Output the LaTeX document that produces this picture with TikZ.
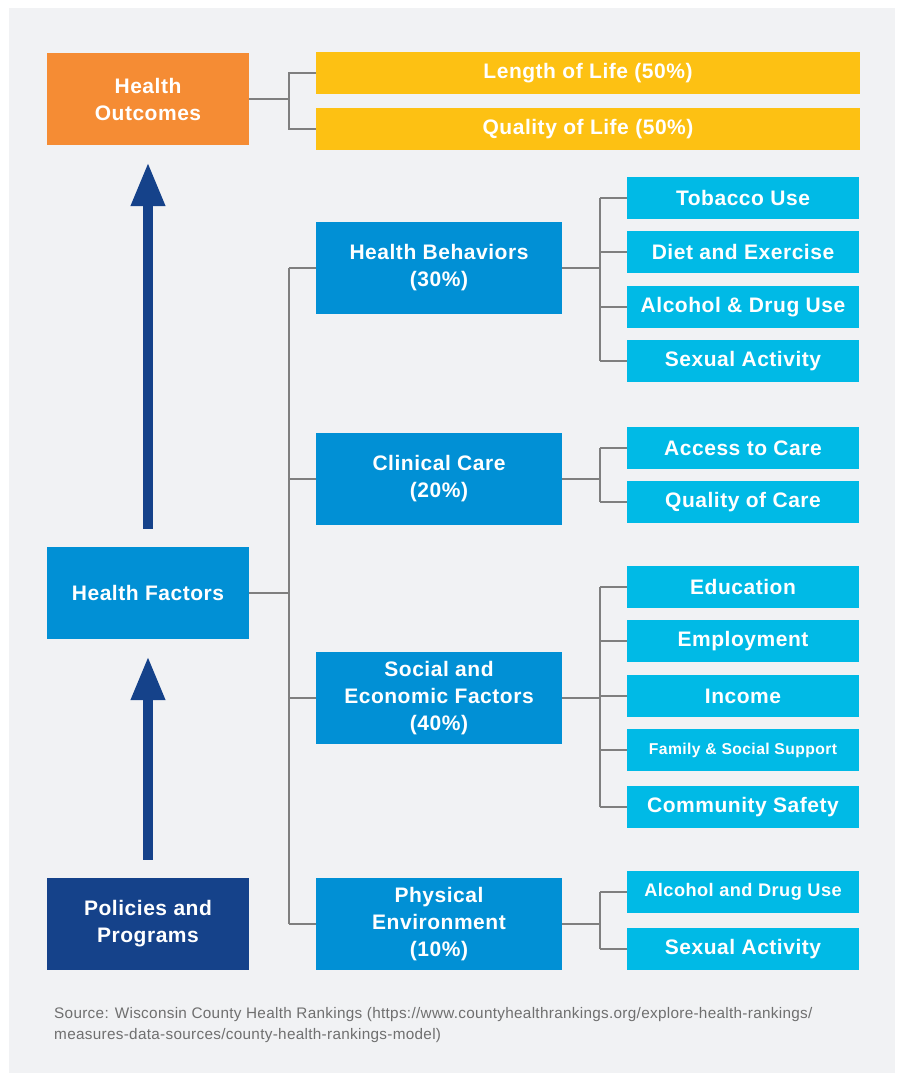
\documentclass[tikz,border=0pt]{standalone}
\usepackage{fontspec}
\setmainfont[LetterSpace=2.5]{Liberation Sans}
\newfontfamily\srcfont[LetterSpace=2]{Liberation Sans}
\usetikzlibrary{arrows.meta}
\definecolor{panelbg}{HTML}{F1F2F4}
\definecolor{orangebox}{HTML}{F58C34}
\definecolor{yellowbox}{HTML}{FDC113}
\definecolor{midblue}{HTML}{0190D5}
\definecolor{lightblue}{HTML}{00BAE6}
\definecolor{navy}{HTML}{15428A}
\definecolor{linegray}{HTML}{7F7F7F}
\definecolor{srcgray}{HTML}{6F6F6F}
\tikzset{
  box/.style={rectangle, inner sep=0pt, text=white, align=center,
    font=\fontsize{21}{27}\selectfont\bfseries},
  leftbox/.style={box, minimum width=202pt, minimum height=92pt},
  midbox/.style={box, fill=midblue, minimum width=246pt, minimum height=92pt},
  outbox/.style={box, fill=yellowbox, minimum width=544pt, minimum height=42pt},
  leafbox/.style={box, fill=lightblue, minimum width=232pt, minimum height=42pt},
  conn/.style={draw=linegray, line width=1.5pt},
  bigarrow/.style={navy, line width=10pt, -{Triangle[width=32pt,length=44pt]}, shorten >=17pt, shorten <=18pt}
}
\begin{document}
\begin{tikzpicture}[x=1pt,y=-1pt]
\fill[white] (0,0) rectangle (897,1075);
\useasboundingbox (0,0) rectangle (897,1075);
\fill[panelbg] (9,8) rectangle (895,1073);

% left column
\node[leftbox, fill=orangebox] (ho) at (148,99) {Health\\Outcomes};
\node[leftbox, fill=midblue] (hf) at (148,593) {Health Factors};
\node[leftbox, fill=navy] (pp) at (148,924) {Policies and\\Programs};

% outcomes
\node[outbox] (lol) at (588,73) {Length of Life (50\%)};
\node[outbox] (qol) at (588,129) {Quality of Life (50\%)};

% factors
\node[midbox] (hb) at (439,268) {Health Behaviors\\(30\%)};
\node[midbox] (cc) at (439,479) {Clinical Care\\(20\%)};
\node[midbox] (se) at (439,698) {Social and\\Economic Factors\\(40\%)};
\node[midbox] (pe) at (439,924) {Physical\\Environment\\(10\%)};

% leaves
\node[leafbox] (tob) at (743,198) {Tobacco Use};
\node[leafbox] (diet) at (743,252) {Diet and Exercise};
\node[leafbox] (alc) at (743,307) {Alcohol \& Drug Use};
\node[leafbox] (sex) at (743,361) {Sexual Activity};
\node[leafbox] (acc) at (743,448) {Access to Care};
\node[leafbox] (qoc) at (743,502) {Quality of Care};
\node[leafbox] (edu) at (743,587) {Education};
\node[leafbox] (emp) at (743,641) {Employment};
\node[leafbox] (inc) at (743,696) {Income};
\node[leafbox, font=\fontsize{15.7}{20}\selectfont\bfseries] (fam) at (743,750) {Family \& Social Support};
\node[leafbox, font=\fontsize{18.2}{22}\selectfont\bfseries] (alc2) at (743,892) {Alcohol and Drug Use};
\node[leafbox] (com) at (743,807) {Community Safety};
\node[leafbox] (sex2) at (743,949) {Sexual Activity};

% bus coordinates
\coordinate (b0) at (289,0);
\coordinate (b1) at (289,0);
\coordinate (b2) at (600,0);

% connectors: outcomes
\draw[conn] (ho.east) -- (ho.east -| b0) |- (lol.west);
\draw[conn] (ho.east -| b0) |- (qol.west);

% connectors: health factors trunk
\draw[conn] (hf.east) -- (hf.east -| b1);
\draw[conn] (hb.west -| b1) -- (pe.west -| b1);
\foreach \n in {hb,cc,se,pe} \draw[conn] (\n.west -| b1) -- (\n.west);

% connectors: leaves
\draw[conn] (hb.east) -- (hb.east -| b2);
\draw[conn] (tob.west -| b2) -- (sex.west -| b2);
\foreach \n in {tob,diet,alc,sex} \draw[conn] (\n.west -| b2) -- (\n.west);

\draw[conn] (cc.east) -- (cc.east -| b2);
\draw[conn] (acc.west -| b2) -- (qoc.west -| b2);
\foreach \n in {acc,qoc} \draw[conn] (\n.west -| b2) -- (\n.west);

\draw[conn] (se.east) -- (se.east -| b2);
\draw[conn] (edu.west -| b2) -- (com.west -| b2);
\foreach \n in {edu,emp,inc,fam,com} \draw[conn] (\n.west -| b2) -- (\n.west);

\draw[conn] (pe.east) -- (pe.east -| b2);
\draw[conn] (alc2.west -| b2) -- (sex2.west -| b2);
\foreach \n in {alc2,sex2} \draw[conn] (\n.west -| b2) -- (\n.west);

% big arrows
\draw[bigarrow] (hf.north) -- (ho.south);
\draw[bigarrow] (pp.north) -- (hf.south);

% source
\node[anchor=base west, inner sep=0pt, text=srcgray, align=left,
  font=\srcfont\fontsize{15.3}{20.5}\selectfont] (src) at (54,1039)
  {Source: Wisconsin County Health Rankings (https://www.countyhealthrankings.org/explore-health-rankings/\\measures-data-sources/county-health-rankings-model)};
\end{tikzpicture}
\end{document}
